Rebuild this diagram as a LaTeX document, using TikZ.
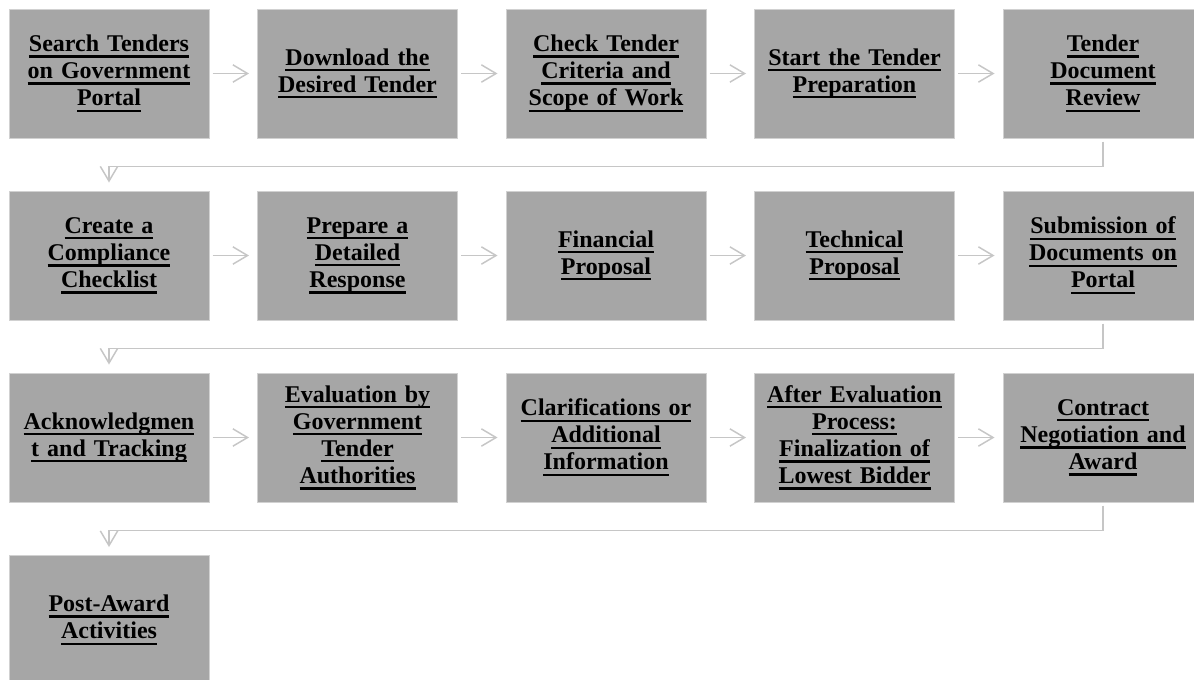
\documentclass[tikz,border=0pt]{standalone}
\usepackage{fontspec}
\setmainfont{Liberation Serif}
\usetikzlibrary{arrows.meta}

\newcommand{\tul}[1]{\leavevmode\setbox0\hbox{#1}\rlap{\rule[-4.6pt]{\wd0}{1.8pt}}\box0}

\tikzset{every picture/.style={line width=0.75pt}}
\tikzset{
  stepbox/.style={draw=black!18, fill={rgb,255:red,166;green,166;blue,166}, minimum width=150pt, minimum height=96.75pt,
    inner sep=0pt, text width=146pt, align=center, font=\fontsize{18}{20.3}\selectfont\bfseries},
  flow/.style={draw={rgb,255:red,198;green,198;blue,198}, line width=1.1pt,
    -{Straight Barb[length=11pt,width=13pt,line width=1.1pt]}, shorten <=2.25pt, shorten >=6pt},
}

\begin{document}
\begin{tikzpicture}[x=0.75pt,y=0.75pt,yscale=-1,xscale=1]
\clip (0,0) rectangle (1194,679);
\fill[white] (0,0) rectangle (1194,679);

%Row 1
\node[stepbox] (s1) at (109,73.5) {\tul{Search Tenders}\\\tul{on Government}\\\tul{Portal}};
\node[stepbox] (s2) at (357.5,73.5) {\tul{Download the}\\\tul{Desired Tender}};
\node[stepbox] (s3) at (606,73.5) {\tul{Check Tender}\\\tul{Criteria and}\\\tul{Scope of Work}};
\node[stepbox] (s4) at (854.5,73.5) {\tul{Start the Tender}\\\tul{Preparation}};
\node[stepbox] (s5) at (1103,73.5) {\tul{Tender}\\\tul{Document}\\\tul{Review}};

%Row 2
\node[stepbox] (s6) at (109,255.5) {\tul{Create a}\\\tul{Compliance}\\\tul{Checklist}};
\node[stepbox] (s7) at (357.5,255.5) {\tul{Prepare a}\\\tul{Detailed}\\\tul{Response}};
\node[stepbox] (s8) at (606,255.5) {\tul{Financial}\\\tul{Proposal}};
\node[stepbox] (s9) at (854.5,255.5) {\tul{Technical}\\\tul{Proposal}};
\node[stepbox] (s10) at (1103,255.5) {\tul{Submission of}\\\tul{Documents on}\\\tul{Portal}};

%Row 3
\node[stepbox] (s11) at (109,437.5) {\tul{Acknowledgmen}\\\tul{t and Tracking}};
\node[stepbox] (s12) at (357.5,437.5) {\tul{Evaluation by}\\\tul{Government}\\\tul{Tender}\\\tul{Authorities}};
\node[stepbox] (s13) at (606,437.5) {\tul{Clarifications or}\\\tul{Additional}\\\tul{Information}};
\node[stepbox] (s14) at (854.5,437.5) {\tul{After Evaluation}\\\tul{Process:}\\\tul{Finalization of}\\\tul{Lowest Bidder}};
\node[stepbox] (s15) at (1103,437.5) {\tul{Contract}\\\tul{Negotiation and}\\\tul{Award}};

%Row 4
\node[stepbox] (s16) at (109,620) {\tul{Post-Award}\\\tul{Activities}};

%Straight arrows
\foreach \a/\b in {s1/s2,s2/s3,s3/s4,s4/s5,s6/s7,s7/s8,s8/s9,s9/s10,s11/s12,s12/s13,s13/s14,s14/s15}
  \draw[flow] (\a) -- (\b);

%Elbow arrows
\draw[flow] (s5.south) -- ++(0,28) -| (s6.north);
\draw[flow] (s10.south) -- ++(0,28) -| (s11.north);
\draw[flow] (s15.south) -- ++(0,28) -| (s16.north);

\end{tikzpicture}
\end{document}
